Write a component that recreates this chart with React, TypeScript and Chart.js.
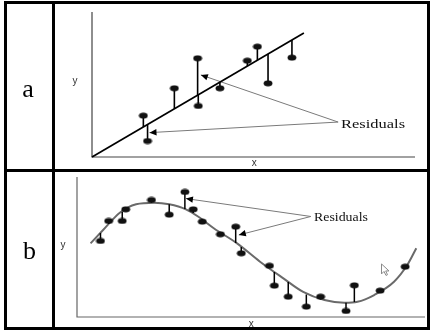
import React, { useEffect, useRef } from "react";
import { Chart, registerables } from "chart.js";
Chart.register(...registerables);

// ---------- Panel a (linear fit) ----------
const aPointX = [15.9, 17.2, 25.5, 32.7, 32.9, 39.6, 48.1, 51.2, 54.5, 61.9];
const aPointY = [28.5, 11.0, 47.4, 68.1, 35.2, 47.4, 66.4, 76.1, 50.8, 68.5];
const aFitY = [20.7, 22.4, 33.2, 42.6, 42.9, 51.6, 62.7, 66.7, 71.0, 80.7];
const aLineX = [0, 65.6];
const aLineY = [0, 85.5];
const aArrowTipX = [33.7, 17.8];
const aArrowTipY = [56.6, 16.8];
const aArrowFrom = [76.2, 24.1];
const aResidualText = [77.1, 20.3];

// ---------- Panel b (curve fit) ----------
const bPointX = [6.75, 9.1, 13.0, 14.0, 21.4, 26.5, 31.0, 33.4, 36.0, 41.2, 45.6, 47.2, 55.3, 56.7, 60.7, 65.9, 70.0, 77.3, 79.7, 87.1, 94.3];
const bPointY = [54.3, 68.6, 68.6, 76.9, 83.6, 73.1, 89.3, 76.9, 68.1, 59.1, 64.5, 45.5, 36.6, 22.4, 14.5, 7.4, 14.5, 4.3, 22.6, 18.8, 35.9];
const bFitY = [60.0, 66.4, 75.0, 76.8, 81.6, 80.5, 77.1, 74.3, 70.0, 60.7, 52.9, 50.0, 35.0, 32.1, 25.0, 16.1, 12.5, 10.2, 10.7, 17.9, 35.0];
const bCurveX = [3.9, 7.5, 12.3, 17.0, 22.2, 26.5, 31.3, 35.0, 39.3, 46.0, 52.6, 59.3, 65.0, 71.1, 76.8, 80.6, 85.4, 91.1, 94.9, 97.5];
const bCurveY = [52.6, 62.1, 74.5, 80.5, 81.6, 80.5, 76.9, 71.4, 63.4, 52.6, 39.5, 27.6, 17.9, 12.1, 10.2, 10.9, 15.7, 25.2, 37.1, 49.1];
const bArrowTipX = [31.3, 46.5];
const bArrowTipY = [84.6, 58.6];
const bArrowFrom = [67.2, 71.8];
const bResidualText = [68.1, 68.6];
const bCursor = [87.5, 37.9];

const residualLabel = "Residuals";

type PanelCfg = {
  letter: string;
  letterPos: [number, number];
  padding: { left: number; right: number; top: number; bottom: number };
  axisColor: string;
  yLabelPos: [number, number];
  xLabelPos: [number, number];
  tipX: number[];
  tipY: number[];
  from: number[];
  textPos: number[];
  textWidth: number;
  cursor?: number[];
};

function ellipseImage(): HTMLCanvasElement {
  const c = document.createElement("canvas");
  c.width = 10;
  c.height = 7;
  const g = c.getContext("2d")!;
  g.fillStyle = "#111";
  g.beginPath();
  g.ellipse(5, 3.5, 4.4, 2.9, 0, 0, Math.PI * 2);
  g.fill();
  return c;
}

function residualData(xs: number[], ys: number[], fit: number[]) {
  const out: any[] = [];
  xs.forEach((x, i) => {
    out.push({ x, y: ys[i] });
    out.push({ x, y: fit[i] });
    out.push({ x, y: null });
  });
  return out;
}

function makePlugin(cfg: PanelCfg) {
  return {
    id: "panelDecor" + cfg.letter,
    beforeDatasetsDraw(chart: any) {
      const ctx = chart.ctx;
      const xs = chart.scales.x;
      const ys = chart.scales.y;
      ctx.save();
      // axes
      ctx.strokeStyle = cfg.axisColor;
      ctx.lineWidth = 1.2;
      ctx.beginPath();
      ctx.moveTo(xs.getPixelForValue(0), ys.getPixelForValue(100));
      ctx.lineTo(xs.getPixelForValue(0), ys.getPixelForValue(0));
      ctx.lineTo(xs.getPixelForValue(100), ys.getPixelForValue(0));
      ctx.stroke();
      // arrow shafts
      ctx.strokeStyle = "#7a7a7a";
      ctx.lineWidth = 1;
      const fx = xs.getPixelForValue(cfg.from[0]);
      const fy = ys.getPixelForValue(cfg.from[1]);
      cfg.tipX.forEach((tx, i) => {
        ctx.beginPath();
        ctx.moveTo(fx, fy);
        ctx.lineTo(xs.getPixelForValue(tx), ys.getPixelForValue(cfg.tipY[i]));
        ctx.stroke();
      });
      ctx.restore();
    },
    afterDatasetsDraw(chart: any) {
      const ctx = chart.ctx;
      const xs = chart.scales.x;
      const ys = chart.scales.y;
      ctx.save();
      // arrow heads
      const fx = xs.getPixelForValue(cfg.from[0]);
      const fy = ys.getPixelForValue(cfg.from[1]);
      ctx.fillStyle = "#000";
      cfg.tipX.forEach((tx, i) => {
        const px = xs.getPixelForValue(tx);
        const py = ys.getPixelForValue(cfg.tipY[i]);
        const ang = Math.atan2(py - fy, px - fx);
        const L = 7;
        const W = 3.2;
        ctx.beginPath();
        ctx.moveTo(px, py);
        ctx.lineTo(px - L * Math.cos(ang) + W * Math.sin(ang), py - L * Math.sin(ang) - W * Math.cos(ang));
        ctx.lineTo(px - L * Math.cos(ang) - W * Math.sin(ang), py - L * Math.sin(ang) + W * Math.cos(ang));
        ctx.closePath();
        ctx.fill();
      });
      // Residuals text
      ctx.font = '13px "Liberation Serif"';
      ctx.fillStyle = "#111";
      ctx.textBaseline = "alphabetic";
      ctx.textAlign = "left";
      const w = ctx.measureText(residualLabel).width;
      ctx.save();
      ctx.translate(xs.getPixelForValue(cfg.textPos[0]), ys.getPixelForValue(cfg.textPos[1]));
      ctx.scale(cfg.textWidth / w, 1);
      ctx.fillText(residualLabel, 0, 0);
      ctx.restore();
      // axis labels
      ctx.font = '10px "Liberation Sans"';
      ctx.fillStyle = "#333";
      ctx.textAlign = "center";
      ctx.textBaseline = "middle";
      ctx.fillText("y", xs.getPixelForValue(cfg.yLabelPos[0]), ys.getPixelForValue(cfg.yLabelPos[1]));
      ctx.fillText("x", xs.getPixelForValue(cfg.xLabelPos[0]), ys.getPixelForValue(cfg.xLabelPos[1]));
      // panel letter
      ctx.font = '26px "Liberation Serif"';
      ctx.fillStyle = "#000";
      ctx.textBaseline = "alphabetic";
      ctx.fillText(cfg.letter, cfg.letterPos[0], cfg.letterPos[1]);
      // mouse cursor artifact
      if (cfg.cursor) {
        const cx = xs.getPixelForValue(cfg.cursor[0]);
        const cy = ys.getPixelForValue(cfg.cursor[1]);
        const shape = [[0, 0], [0, 10], [2.5, 7.5], [4.5, 11.5], [6, 10.8], [4.2, 7], [7.5, 7]];
        ctx.beginPath();
        shape.forEach(([dx, dy], i) => (i === 0 ? ctx.moveTo(cx + dx, cy + dy) : ctx.lineTo(cx + dx, cy + dy)));
        ctx.closePath();
        ctx.fillStyle = "#fff";
        ctx.fill();
        ctx.strokeStyle = "#8a8a8a";
        ctx.lineWidth = 1;
        ctx.stroke();
      }
      ctx.restore();
    },
  };
}

function baseOptions(padding: PanelCfg["padding"]) {
  return {
    responsive: false,
    animation: false as const,
    events: [] as any[],
    layout: { padding },
    plugins: { legend: { display: false }, tooltip: { enabled: false } },
    scales: {
      x: { type: "linear" as const, display: false, min: 0, max: 100 },
      y: { type: "linear" as const, display: false, min: 0, max: 100 },
    },
  };
}

export default function App() {
  const refA = useRef<HTMLCanvasElement>(null);
  const refB = useRef<HTMLCanvasElement>(null);

  useEffect(() => {
    const dot = ellipseImage();
    const cfgA: PanelCfg = {
      letter: "a",
      letterPos: [28, 97],
      padding: { left: 92, right: 15, top: 12, bottom: 173 },
      axisColor: "#444",
      yLabelPos: [-5.3, 52.4],
      xLabelPos: [50.2, -4.3],
      tipX: aArrowTipX,
      tipY: aArrowTipY,
      from: aArrowFrom,
      textPos: aResidualText,
      textWidth: 64,
    };
    const cfgB: PanelCfg = {
      letter: "b",
      letterPos: [29.5, 259],
      padding: { left: 77, right: 2, top: 177, bottom: 13 },
      axisColor: "#666",
      yLabelPos: [-4.0, 51.4],
      xLabelPos: [50.1, -5.0],
      tipX: bArrowTipX,
      tipY: bArrowTipY,
      from: bArrowFrom,
      textPos: bResidualText,
      textWidth: 54,
      cursor: bCursor,
    };

    const chartA = new Chart(refA.current!, {
      type: "scatter",
      data: {
        datasets: [
          {
            data: aPointX.map((x, i) => ({ x, y: aPointY[i] })),
            pointStyle: dot as any,
            pointRadius: 4,
            showLine: false,
            clip: false as any,
          },
          {
            data: residualData(aPointX, aPointY, aFitY),
            showLine: true,
            spanGaps: false,
            borderColor: "#000",
            borderWidth: 1.6,
            pointRadius: 0,
            clip: false as any,
          },
          {
            data: aLineX.map((x, i) => ({ x, y: aLineY[i] })),
            showLine: true,
            borderColor: "#000",
            borderWidth: 1.7,
            pointRadius: 0,
            clip: false as any,
          },
        ],
      },
      options: baseOptions(cfgA.padding) as any,
      plugins: [makePlugin(cfgA)],
    });

    const chartB = new Chart(refB.current!, {
      type: "scatter",
      data: {
        datasets: [
          {
            data: bPointX.map((x, i) => ({ x, y: bPointY[i] })),
            pointStyle: dot as any,
            pointRadius: 4,
            showLine: false,
            clip: false as any,
          },
          {
            data: residualData(bPointX, bPointY, bFitY),
            showLine: true,
            spanGaps: false,
            borderColor: "#000",
            borderWidth: 1.5,
            pointRadius: 0,
            clip: false as any,
          },
          {
            data: bCurveX.map((x, i) => ({ x, y: bCurveY[i] })),
            showLine: true,
            cubicInterpolationMode: "monotone" as const,
            borderColor: "#6a6a6a",
            borderWidth: 2,
            pointRadius: 0,
            clip: false as any,
          },
        ],
      },
      options: baseOptions(cfgB.padding) as any,
      plugins: [makePlugin(cfgB)],
    });

    return () => {
      chartA.destroy();
      chartB.destroy();
    };
  }, []);

  const abs: React.CSSProperties = { position: "absolute" };
  return (
    <div style={{ position: "fixed", left: 0, top: 0, width: 430, height: 330, background: "#fff", overflow: "hidden" }}>
      <div style={{ ...abs, left: 4, top: 1, width: 426, height: 329, border: "3px solid #000", boxSizing: "border-box" }} />
      <div style={{ ...abs, left: 52, top: 1, width: 3, height: 329, background: "#000" }} />
      <div style={{ ...abs, left: 4, top: 169, width: 426, height: 3, background: "#000" }} />
      <canvas ref={refA} width={430} height={330} style={{ ...abs, left: 0, top: 0 }} />
      <canvas ref={refB} width={430} height={330} style={{ ...abs, left: 0, top: 0 }} />
    </div>
  );
}
